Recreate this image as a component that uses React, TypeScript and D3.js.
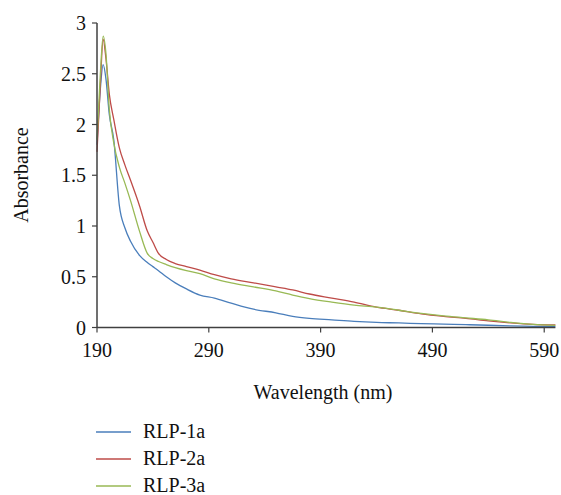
import React from "react";
import * as d3 from "d3";

const wavelengths = [190, 193, 195.5, 198, 201, 205, 210, 215, 220, 228, 235, 240, 245, 252, 260, 270, 282, 295, 310, 330, 350, 365, 380, 400, 420, 440, 460, 480, 500, 520, 540, 560, 580, 600];
const rlp1a = [1.8, 2.35, 2.59, 2.45, 2.1, 1.85, 1.2, 0.98, 0.85, 0.71, 0.64, 0.6, 0.56, 0.5, 0.44, 0.38, 0.32, 0.29, 0.24, 0.18, 0.145, 0.11, 0.09, 0.075, 0.06, 0.05, 0.045, 0.038, 0.033, 0.028, 0.022, 0.016, 0.012, 0.008];
const rlp2a = [1.73, 2.4, 2.84, 2.65, 2.3, 2.05, 1.77, 1.6, 1.45, 1.2, 0.95, 0.84, 0.73, 0.67, 0.63, 0.6, 0.565, 0.52, 0.48, 0.44, 0.4, 0.37, 0.33, 0.29, 0.25, 0.2, 0.17, 0.135, 0.11, 0.09, 0.065, 0.045, 0.03, 0.025];
const rlp3a = [1.85, 2.5, 2.87, 2.7, 2.15, 1.82, 1.58, 1.42, 1.25, 0.95, 0.73, 0.68, 0.65, 0.62, 0.59, 0.56, 0.53, 0.48, 0.44, 0.4, 0.36, 0.32, 0.285, 0.25, 0.22, 0.2, 0.17, 0.14, 0.115, 0.095, 0.075, 0.05, 0.03, 0.02];

const seriesNames = ["RLP-1a", "RLP-2a", "RLP-3a"];
const seriesColors = ["#4a7ebb", "#be4b48", "#98b954"];
const xTicks = [190, 290, 390, 490, 590];
const yTicks = [0, 0.5, 1, 1.5, 2, 2.5, 3];

const FONT = "'Liberation Serif', 'Times New Roman', serif";

export default function App() {
  const x = d3.scaleLinear().domain([190, 600]).range([97, 555.4]);
  const y = d3.scaleLinear().domain([0, 3]).range([327.5, 23]);
  const all = [rlp1a, rlp2a, rlp3a];
  const line = d3
    .line<number>()
    .x((_, i) => x(wavelengths[i]))
    .y((d) => y(d))
    .curve(d3.curveMonotoneX);
  const axisColor = "#404040";
  return (
    <svg width={561} height={495} style={{ position: "absolute", left: 0, top: 0 }} fontFamily={FONT}>
      <rect width={561} height={495} fill="#fff" />
      {all.map((s, i) => (
        <path key={i} d={line(s) || ""} fill="none" stroke={seriesColors[i]} strokeWidth={1.3} />
      ))}
      {/* axes */}
      <line x1={x(190)} x2={x(190)} y1={y(3)} y2={y(0)} stroke={axisColor} strokeWidth={1.5} />
      <line x1={x(190)} x2={x(600)} y1={y(0)} y2={y(0)} stroke={axisColor} strokeWidth={1.5} />
      {yTicks.map((t) => (
        <g key={t}>
          <line x1={x(190) - 5} x2={x(190)} y1={y(t)} y2={y(t)} stroke={axisColor} strokeWidth={1.2} />
          <text x={86} y={y(t)} dy="0.35em" textAnchor="end" fontSize={20} fill="#111">
            {t}
          </text>
        </g>
      ))}
      {xTicks.map((t) => (
        <g key={t}>
          <line x1={x(t)} x2={x(t)} y1={y(0)} y2={y(0) + 5} stroke={axisColor} strokeWidth={1.2} />
          <text x={x(t)} y={357} textAnchor="middle" fontSize={20} fill="#111">
            {t}
          </text>
        </g>
      ))}
      <text x={323} y={392} dy="0.35em" textAnchor="middle" fontSize={20} fill="#111">
        Wavelength (nm)
      </text>
      <text
        transform={`translate(21,175) rotate(-90)`}
        dy="0.35em"
        textAnchor="middle"
        fontSize={20}
        fill="#111"
      >
        Absorbance
      </text>
      {seriesNames.map((n, i) => (
        <g key={n} transform={`translate(0,${432 + i * 27})`}>
          <line x1={96} x2={131} y1={0} y2={0} stroke={seriesColors[i]} strokeWidth={1.5} />
          <text x={143} y={0} dy="0.28em" fontSize={20} fill="#111">
            {n}
          </text>
        </g>
      ))}
    </svg>
  );
}
